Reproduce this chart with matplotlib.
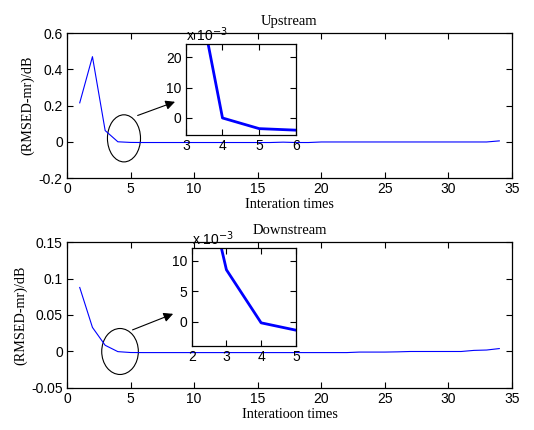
import numpy as np
import matplotlib
matplotlib.use("Agg")
import matplotlib.pyplot as plt
from matplotlib.patches import Ellipse
from matplotlib.ticker import FuncFormatter

plt.rcParams['axes.unicode_minus'] = False
plt.rcParams['font.family'] = 'Liberation Sans'

# Iteration index
iters = np.arange(1, 35)

# Upstream (RMSED-mr) values, dB
up_vals = [0.215, 0.47, 0.062, 0.0, -0.0035, -0.004, -0.004, -0.004, -0.004, -0.004,
           -0.004, -0.004, -0.004, -0.004, -0.004, -0.004, -0.002, -0.004, -0.004, -0.001,
           -0.001, -0.001, -0.001, -0.001, -0.001, -0.001, -0.001, -0.001, -0.001, -0.001,
           -0.001, -0.001, -0.001, 0.005]

# Downstream (RMSED-mr) values, dB
down_vals = [0.0877, 0.033, 0.0085, -0.0002, -0.0014, -0.0015, -0.0015, -0.0015, -0.0015, -0.0015,
             -0.0015, -0.0015, -0.0015, -0.0015, -0.0015, -0.0015, -0.0015, -0.0015, -0.0015, -0.0015,
             -0.0015, -0.0015, -0.0008, -0.0008, -0.0008, -0.0005, 0.0, 0.0, 0.0, 0.0,
             0.0, 0.0015, 0.002, 0.004]

serif = 'Liberation Serif'
gfmt = FuncFormatter(lambda v, p: '%g' % round(v, 6))
mfmt = FuncFormatter(lambda v, p: '%g' % round(v * 1e3, 6))


def style(ax):
    ax.tick_params(direction='in', top=True, right=True, length=4, labelsize=10, width=0.8, pad=3)
    for s in ax.spines.values():
        s.set_linewidth(0.9)


fig = plt.figure(figsize=(5.34, 4.30), dpi=100)

# ---- Upstream ----
ax1 = fig.add_axes([0.1255, 0.586, 0.8333, 0.337])
ax1.plot(iters, up_vals, color='blue', lw=0.8)
ax1.set_xlim(0, 35)
ax1.set_ylim(-0.2, 0.6)
ax1.set_xticks(np.arange(0, 36, 5))
ax1.set_yticks(np.arange(-0.2, 0.61, 0.2))
ax1.yaxis.set_major_formatter(gfmt)
style(ax1)
ax1.set_title('Upstream', family=serif, fontsize=10.5, pad=6)
ax1.set_xlabel('Interation times', family=serif, fontsize=10.2, labelpad=1)
ax1.set_ylabel('(RMSED-mr)/dB', family=serif, fontsize=10.2, labelpad=3)
ax1.add_patch(Ellipse((4.48, 0.019), 2.6, 0.26, fill=False, ec='black', lw=0.8))
ax1.annotate('', xy=(8.7, 0.226), xytext=(5.35, 0.14),
             arrowprops=dict(arrowstyle='-|>', color='black', lw=0.8, mutation_scale=14))

in1 = fig.add_axes([0.348, 0.686, 0.206, 0.2116])
in1.plot(iters, up_vals, color='blue', lw=2)
in1.set_xlim(3, 6)
in1.set_ylim(-0.0056, 0.0243)
in1.set_xticks([3, 4, 5, 6])
in1.set_yticks([0, 0.01, 0.02])
in1.yaxis.set_major_formatter(mfmt)
style(in1)
in1.text(0.0, 1.0, 'x 10$^{-3}$', transform=in1.transAxes, fontsize=10, ha='left', va='bottom')

# ---- Downstream ----
ax2 = fig.add_axes([0.1255, 0.0977, 0.8333, 0.3395])
ax2.plot(iters, down_vals, color='blue', lw=0.8)
ax2.set_xlim(0, 35)
ax2.set_ylim(-0.05, 0.15)
ax2.set_xticks(np.arange(0, 36, 5))
ax2.set_yticks(np.arange(-0.05, 0.151, 0.05))
ax2.yaxis.set_major_formatter(gfmt)
style(ax2)
ax2.set_title('Downstream', family=serif, fontsize=10.5, pad=6)
ax2.set_xlabel('Interatioon times', family=serif, fontsize=10.2, labelpad=1)
ax2.set_ylabel('(RMSED-mr)/dB', family=serif, fontsize=10.2, labelpad=3)
ax2.add_patch(Ellipse((4.17, 0.0), 2.88, 0.063, fill=False, ec='black', lw=0.8))
ax2.annotate('', xy=(8.55, 0.053), xytext=(4.95, 0.0282),
             arrowprops=dict(arrowstyle='-|>', color='black', lw=0.8, mutation_scale=14))

in2 = fig.add_axes([0.359, 0.1953, 0.195, 0.227])
in2.plot(iters, down_vals, color='blue', lw=2)
in2.set_xlim(2, 5)
in2.set_ylim(-0.004, 0.012)
in2.set_xticks([2, 3, 4, 5])
in2.set_yticks([0, 0.005, 0.01])
in2.yaxis.set_major_formatter(mfmt)
style(in2)
in2.text(0.0, 1.0, 'x 10$^{-3}$', transform=in2.transAxes, fontsize=10, ha='left', va='bottom')

fig.savefig('out.png', dpi=100)
